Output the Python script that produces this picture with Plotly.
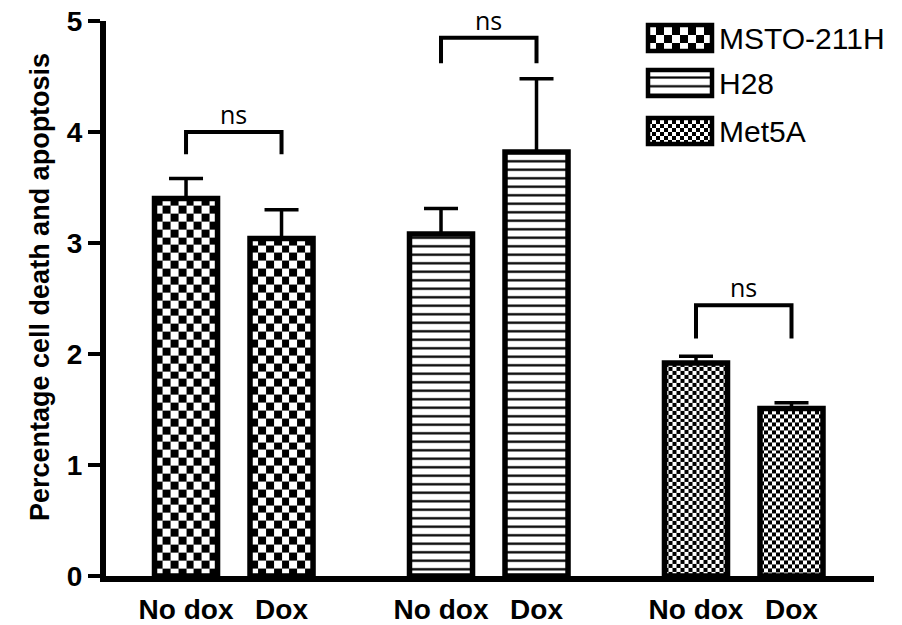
import numpy as np
import plotly.graph_objects as go

# ---- data -------------------------------------------------------------
cell_lines = ["MSTO-211H", "H28", "Met5A"]
conditions = ["No dox", "Dox"]
means = {
    "MSTO-211H": [3.40, 3.04],
    "H28": [3.08, 3.82],
    "Met5A": [1.92, 1.51],
}
sem = {
    "MSTO-211H": [0.18, 0.26],
    "H28": [0.23, 0.66],
    "Met5A": [0.06, 0.05],
}
# significance brackets: (bracket top, leg bottom, label)
brackets = {
    "MSTO-211H": (4.00, 3.80, "ns"),
    "H28": (4.85, 4.62, "ns"),
    "Met5A": (2.44, 2.14, "ns"),
}
y_ticks = [0, 1, 2, 3, 4, 5]

# ---- layout constants -------------------------------------------------
W, H = 902, 625
ML, MR, MT, MB = 106, 28, 21, 49
PW, PH = W - ML - MR, H - MT - MB
BAR_STEP = 1.0          # distance between the two bars of a group
GROUP_STEP = 2.67       # distance between groups
BAR_W = 0.66
X0 = -0.838
X1 = X0 + PW / 95.5

# fill style per cell line: checker cell counts across a bar (None = stripes)
checker_cols = {"MSTO-211H": 8, "H28": None, "Met5A": 16}
PX_X = PW / (X1 - X0)   # pixels per x unit on the main axes
PX_Y = PH / 5.0         # pixels per y unit on the main axes

BLACK = "#000000"
FONT = "Liberation Sans, Arial, sans-serif"
NS_FONT = "Open Sans, sans-serif"

fig = go.Figure()


def checker_heatmap(xc, top, ncols, width, px_x, px_y, bottom=0.0, xaxis="x", yaxis="y"):
    """Checkerboard texture filling the rectangle of a bar (square cells on screen)."""
    cell_w = width / ncols
    cell_h = cell_w * px_x / px_y
    xe = np.linspace(xc - width / 2, xc + width / 2, ncols + 1)
    ye = np.append(np.arange(bottom, top, cell_h), top)
    z = np.add.outer(np.arange(len(ye) - 1), np.arange(ncols)) % 2
    return go.Heatmap(
        x=xe, y=ye, z=z, zmin=0, zmax=1,
        colorscale=[[0, "white"], [1, "black"]],
        showscale=False, hoverinfo="skip", xaxis=xaxis, yaxis=yaxis,
    )


all_x, all_text = [], []
for g, line in enumerate(cell_lines):
    xs = [g * GROUP_STEP + k * BAR_STEP for k in range(len(conditions))]
    all_x += xs
    all_text += conditions
    ys = means[line]
    ncols = checker_cols[line]
    if ncols:
        for xc, v in zip(xs, ys):
            fig.add_trace(checker_heatmap(xc, v, ncols, BAR_W, PX_X, PX_Y))
        marker = dict(color="rgba(0,0,0,0)", line=dict(color=BLACK, width=5.5))
    else:
        marker = dict(
            color="white",
            line=dict(color=BLACK, width=5.5),
            pattern=dict(shape="-", size=8.5, solidity=0.27,
                         fgcolor=BLACK, bgcolor="white", fillmode="replace"),
        )
    fig.add_trace(go.Bar(
        x=xs, y=ys, width=BAR_W, name=line, marker=marker,
        error_y=dict(type="data", symmetric=False, array=sem[line],
                     arrayminus=[0] * len(ys), color=BLACK, thickness=3.5, width=17),
        showlegend=False,
    ))
    # significance bracket
    top, leg, label = brackets[line]
    fig.add_shape(type="path",
                  path=f"M {xs[0]},{leg} L {xs[0]},{top} L {xs[1]},{top} L {xs[1]},{leg}",
                  xref="x", yref="y", line=dict(color=BLACK, width=4))
    fig.add_annotation(x=(xs[0] + xs[1]) / 2, y=top, xref="x", yref="y",
                       text=label, showarrow=False, yanchor="bottom", yshift=-1,
                       font=dict(family=NS_FONT, size=25, color=BLACK))

# ---- legend, drawn on an overlay axis measured in pixels ---------------
leg_x0, leg_x1 = 648 - ML, 712 - ML
leg_rows = [(25, 51), (70, 96), (118, 144)]   # top/bottom pixel rows of each box
leg_text_x = 717 - ML
for line, (t, b) in zip(cell_lines, leg_rows):
    y_top, y_bot = H - MB - t, H - MB - b
    xc = (leg_x0 + leg_x1) / 2
    ncols = checker_cols[line]
    if ncols:
        fig.add_trace(checker_heatmap(xc, y_top, ncols, leg_x1 - leg_x0, 1.0, 1.0,
                                      bottom=y_bot, xaxis="x2", yaxis="y2"))
    else:
        fig.add_trace(go.Bar(
            x=[xc], y=[y_top - y_bot], base=[y_bot], width=leg_x1 - leg_x0,
            xaxis="x2", yaxis="y2", showlegend=False, hoverinfo="skip",
            marker=dict(color="white", line=dict(width=0),
                        pattern=dict(shape="-", size=8.7, solidity=0.25,
                                     fgcolor=BLACK, bgcolor="white", fillmode="replace")),
        ))
    fig.add_shape(type="rect", x0=leg_x0, x1=leg_x1, y0=y_bot, y1=y_top,
                  xref="x2", yref="y2", line=dict(color=BLACK, width=4.5))
    fig.add_annotation(x=leg_text_x, y=(y_top + y_bot) / 2, xref="x2", yref="y2",
                       text=line, showarrow=False, xanchor="left", yanchor="middle",
                       font=dict(family=FONT, size=30, color=BLACK))

# y-axis title
fig.add_annotation(x=(40 - ML) / PW, y=(H - MB - 287) / PH, xref="paper", yref="paper",
                   text="<b>Percentage cell death and apoptosis</b>", textangle=-90,
                   showarrow=False, xanchor="center", yanchor="middle",
                   font=dict(family=FONT, size=27, color=BLACK))

fig.update_layout(
    template="none",
    width=W, height=H,
    margin=dict(l=ML, r=MR, t=MT, b=MB, pad=0, autoexpand=False),
    paper_bgcolor="white", plot_bgcolor="white",
    barmode="overlay", showlegend=False,
    xaxis=dict(range=[X0, X1], tickvals=all_x,
               ticktext=[f"<b>{t}</b>" for t in all_text],
               showgrid=False, zeroline=False, showline=True, linecolor=BLACK,
               linewidth=6, ticks="", tickfont=dict(family=FONT, size=28, color=BLACK),
               ticklabelstandoff=3, automargin=False, fixedrange=True),
    yaxis=dict(range=[0, 5], tickvals=y_ticks,
               ticktext=[f"<b>{v}</b>" for v in y_ticks],
               showgrid=False, zeroline=False, showline=True, linecolor=BLACK,
               linewidth=6, ticks="outside", ticklen=12, tickwidth=4, tickcolor=BLACK,
               tickfont=dict(family=FONT, size=28, color=BLACK),
               automargin=False, fixedrange=True),
    xaxis2=dict(range=[0, PW], overlaying="x", anchor="y2", visible=False, fixedrange=True),
    yaxis2=dict(range=[0, PH], overlaying="y", anchor="x2", visible=False, fixedrange=True),
)

fig.write_html("out.html")
